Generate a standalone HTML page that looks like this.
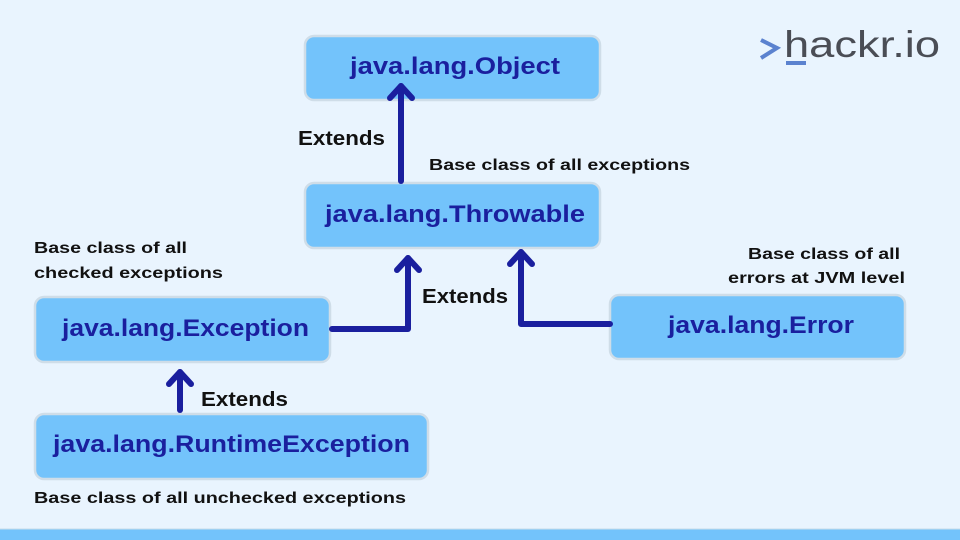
<!DOCTYPE html>
<html><head><meta charset="utf-8"><style>
html,body{margin:0;padding:0;background:#e9f4fe;}
svg{display:block;font-family:"Liberation Sans",sans-serif;font-weight:bold;}
</style></head><body>
<svg width="960" height="540" viewBox="0 0 960 540" xmlns="http://www.w3.org/2000/svg">
<rect width="960" height="540" fill="#e9f4fe"/>
<rect x="0" y="529" width="960" height="11" fill="#73c3fb"/>
<line x1="0" y1="529" x2="960" y2="529" stroke="#c8dcea" stroke-width="1"/>
<g fill="#73c3fb" stroke="#cfdde8" stroke-width="2.5">
<rect x="305" y="36" width="295" height="64" rx="9"/>
<rect x="305" y="183" width="295" height="65" rx="9"/>
<rect x="35" y="297" width="295" height="65" rx="9"/>
<rect x="610" y="295" width="295" height="64" rx="9"/>
<rect x="35" y="414" width="393" height="65" rx="9"/>
</g>
<g fill="#1a1f9e" font-size="24">
<text x="350" y="74" textLength="210" lengthAdjust="spacingAndGlyphs">java.lang.Object</text>
<text x="325" y="222" textLength="260" lengthAdjust="spacingAndGlyphs">java.lang.Throwable</text>
<text x="62" y="336" textLength="247" lengthAdjust="spacingAndGlyphs">java.lang.Exception</text>
<text x="668" y="333" textLength="186" lengthAdjust="spacingAndGlyphs">java.lang.Error</text>
<text x="53" y="452" textLength="357" lengthAdjust="spacingAndGlyphs">java.lang.RuntimeException</text>
</g>
<g stroke="#1a1f9e" stroke-width="6" fill="none" stroke-linecap="round" stroke-linejoin="round">
<path d="M401 181 V86"/><path d="M390 98 L401 86 L412 98"/>
<path d="M332 329 H408 V258"/><path d="M397 270 L408 258 L419 270"/>
<path d="M610 324 H521 V252"/><path d="M510 264 L521 252 L532 264"/>
<path d="M180 410 V372"/><path d="M169 384 L180 372 L191 384"/>
</g>
<g fill="#111" font-size="20">
<text x="298" y="145" textLength="87" lengthAdjust="spacingAndGlyphs">Extends</text>
<text x="422" y="303" textLength="86" lengthAdjust="spacingAndGlyphs">Extends</text>
<text x="201" y="406" textLength="87" lengthAdjust="spacingAndGlyphs">Extends</text>
</g>
<g fill="#111" font-size="15.5">
<text x="429" y="170" textLength="261" lengthAdjust="spacingAndGlyphs">Base class of all exceptions</text>
<text x="34" y="253" textLength="153" lengthAdjust="spacingAndGlyphs">Base class of all</text>
<text x="34" y="278" textLength="189" lengthAdjust="spacingAndGlyphs">checked exceptions</text>
<text x="748" y="259" textLength="152" lengthAdjust="spacingAndGlyphs">Base class of all</text>
<text x="728" y="283" textLength="177" lengthAdjust="spacingAndGlyphs">errors at JVM level</text>
<text x="34" y="503" textLength="372" lengthAdjust="spacingAndGlyphs">Base class of all unchecked exceptions</text>
</g>
<g>
<path d="M761 40 L777 48 L761 58" stroke="#5b82cf" stroke-width="4" fill="none"/>
<rect x="786" y="61" width="20" height="4" fill="#5b82cf"/>
<text x="784" y="57" font-size="37" fill="#4a4d55" font-weight="normal" textLength="156" lengthAdjust="spacingAndGlyphs">hackr.io</text>
</g>
</svg>
</body></html>
